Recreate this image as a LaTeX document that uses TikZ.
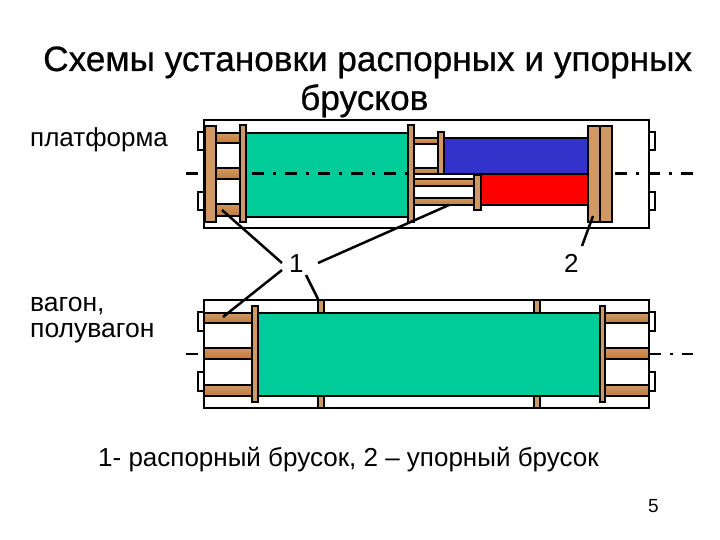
\documentclass[tikz,border=0pt]{standalone}
\usepackage{fontspec}
\setmainfont{Liberation Sans}
\newfontfamily\heavyf[FakeBold=0.6]{Liberation Sans}
\definecolor{woodc}{RGB}{208,152,98}
\definecolor{woodd}{RGB}{192,122,60}
\definecolor{cargog}{RGB}{0,204,153}
\definecolor{cargob}{RGB}{51,51,204}
\definecolor{cargor}{RGB}{255,0,0}
\tikzset{
 x=1bp,y=-1bp,
 frame/.style={draw=black,line width=2.5bp,fill=white},
 wood/.style={draw=black,line width=2.2bp,fill=woodc},
 woodh/.style={draw=black,line width=2.2bp,top color=woodc,bottom color=woodd},
 cargo/.style={draw=black,line width=2.5bp},
 axisline/.style={draw=black,line width=2.5bp,dash pattern=on 12bp off 8.5bp on 3bp off 9.5bp},
 leader/.style={draw=black,line width=2.5bp},
 label/.style={inner sep=0pt,anchor=base west,text=black}
}
\newcommand{\bx}[5]{\path[#1] (#2,#3) rectangle (#4,#5);}
\begin{document}
\begin{tikzpicture}
\useasboundingbox (0,0) rectangle (720,540);
% titles
\node[label] (t1) at (43,71) {\fontsize{35.2bp}{38bp}\selectfont\heavyf Схемы установки распорных и упорных};
\node[label] (t2) at (300,110) {\fontsize{35.2bp}{38bp}\selectfont\heavyf брусков};
\node[label] (lp) at (30,147) {\fontsize{26bp}{30bp}\selectfont платформа};
\node[label] (lv1) at (30,311) {\fontsize{26.5bp}{30bp}\selectfont вагон,};
\node[label] (lv2) at (30,337) {\fontsize{26.5bp}{30bp}\selectfont полувагон};
\node[label] (l1) at (289,273) {\fontsize{26bp}{30bp}\selectfont 1};
\node[label] (l2) at (564,273) {\fontsize{26bp}{30bp}\selectfont 2};
\node[label] (foot) at (98,466) {\fontsize{26bp}{30bp}\selectfont 1- распорный брусок, 2 – упорный брусок};
\node[label] (pg) at (648,512) {\fontsize{19bp}{22bp}\selectfont 5};
% platform
\bx{frame}{198}{132}{204}{150}
\bx{frame}{198}{192}{204}{210}
\bx{frame}{649}{132}{655}{150}
\bx{frame}{649}{192}{655}{210}
\bx{frame}{204}{120}{649}{228}
\bx{woodh}{216}{133}{240}{143}
\bx{woodh}{216}{168}{240}{179}
\bx{woodh}{216}{204}{240}{216}
\bx{wood}{205}{126}{216}{222}
\bx{wood}{240}{125}{246}{222}
\bx{cargo,fill=cargog}{246}{133}{408}{217}
\bx{wood}{408}{125}{414}{222}
\bx{woodh}{414}{138}{438}{144}
\bx{woodh}{414}{168}{438}{174}
\bx{woodh}{414}{179}{474}{186}
\bx{woodh}{414}{198}{474}{205}
\bx{wood}{438}{132}{444}{174}
\bx{cargo,fill=cargob}{444}{138}{588}{174}
\bx{cargo,fill=cargor}{481}{174}{588}{205}
\bx{wood}{474}{175}{481}{210}
\bx{wood}{588}{126}{600}{222}
\bx{wood}{600}{126}{612}{222}
% wagon
\bx{frame}{198}{312}{204}{331}
\bx{frame}{198}{372}{204}{391}
\bx{frame}{649}{312}{655}{331}
\bx{frame}{649}{372}{655}{391}
\bx{frame}{204}{300}{649}{408}
\bx{wood}{318}{300}{324}{313}
\bx{wood}{318}{396}{324}{408}
\bx{wood}{534}{300}{540}{313}
\bx{wood}{534}{396}{540}{408}
\bx{woodh}{204}{313}{252}{323}
\bx{woodh}{204}{348}{252}{359}
\bx{woodh}{204}{385}{252}{396}
\bx{woodh}{605}{313}{649}{323}
\bx{woodh}{605}{348}{649}{359}
\bx{woodh}{605}{385}{649}{396}
\bx{cargo,fill=cargog}{258}{313}{600}{396}
\bx{wood}{252}{306}{258}{402}
\bx{wood}{600}{306}{605}{402}
% axis lines
\coordinate (a1s) at (186,173.5); \coordinate (a1e) at (198,173.5);
\coordinate (a2s) at (252,173.5); \coordinate (a2e) at (410,173.5);
\coordinate (a3s) at (615,173.5); \coordinate (a3e) at (693,173.5);
\coordinate (b1s) at (186,354); \coordinate (b1e) at (198,354);
\coordinate (b2s) at (649,354); \coordinate (b2e) at (693,354);
\draw[axisline] (a1s) -- (a1e);
\draw[axisline] (a2s) -- (a2e);
\draw[axisline] (a3s) -- (a3e);
\draw[axisline] (b1s) -- (b1e);
\draw[axisline] (b2s) -- (b2e);
% leaders
\coordinate (p1) at (222,210); \coordinate (p1l) at (282,263);
\coordinate (p2) at (223,317); \coordinate (p2l) at (282,270);
\coordinate (p3) at (449,205); \coordinate (p3l) at (318,263);
\coordinate (p4) at (318,299); \coordinate (p4l) at (306,275);
\coordinate (p5) at (593,216); \coordinate (p5l) at (582,246);
\draw[leader] (p1l) -- (p1);
\draw[leader] (p2l) -- (p2);
\draw[leader] (p3l) -- (p3);
\draw[leader] (p4l) -- (p4);
\draw[leader] (p5l) -- (p5);
\end{tikzpicture}
\end{document}
